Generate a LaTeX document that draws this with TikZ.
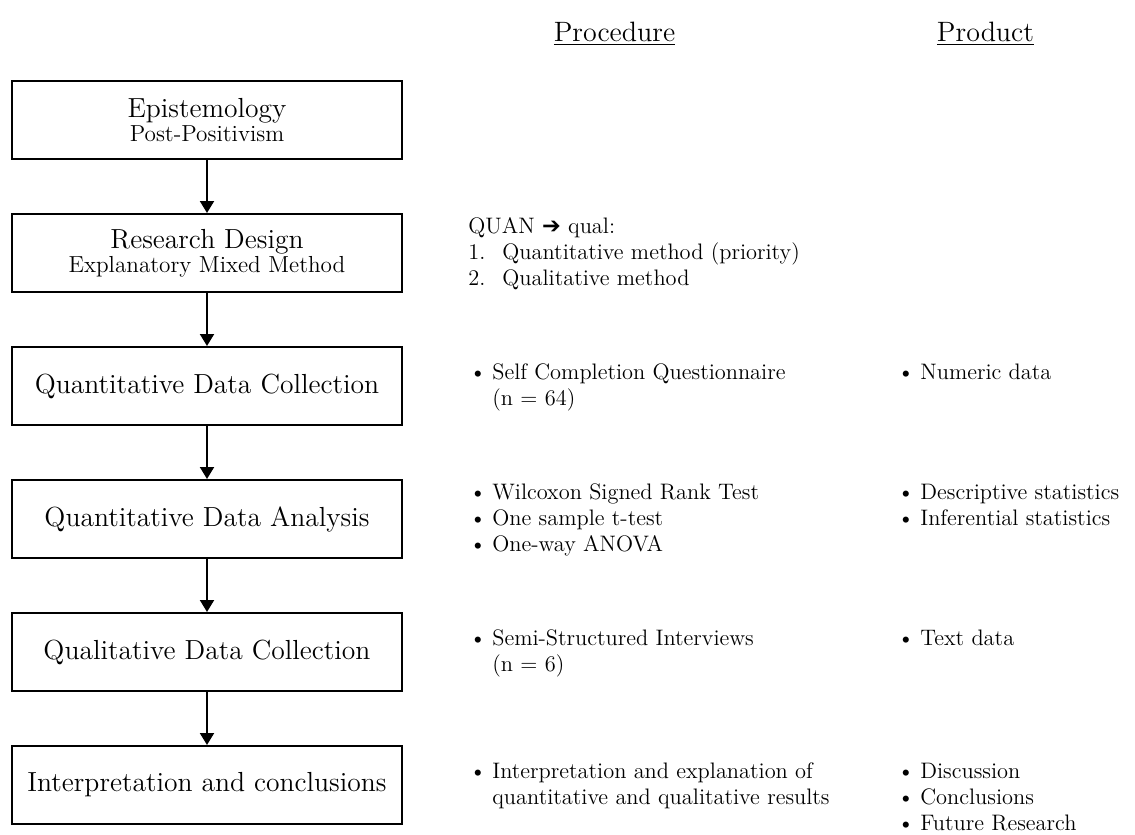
\documentclass[tikz,border=0pt]{standalone}
\usepackage{fontspec}
\newfontfamily\symfont{DejaVu Sans}
\usetikzlibrary{arrows.meta}
\newcommand{\lst}[1]{\begin{tabular}[t]{@{}l@{}}#1\end{tabular}}
\newcommand{\bul}{\makebox[11.5pt][l]{\textbullet}}
\newcommand{\cont}{\hspace*{11.5pt}}
\newcommand{\numb}[1]{\makebox[17pt][l]{#1}}
\newcommand{\subt}{\fontsize{11.6}{13}\selectfont}
\begin{document}
\begin{tikzpicture}[x=0.5pt,y=-0.5pt]
\tikzset{
  stage/.style={draw, line width=1pt, minimum width=195pt, minimum height=39pt,
    inner sep=0pt, align=center, font=\fontsize{13.8}{15}\selectfont},
  flow/.style={-{Triangle[length=6pt,width=7pt]}, line width=1pt},
  item/.style={anchor=base west, inner sep=0pt, font=\fontsize{11.2}{13}\selectfont},
  head/.style={anchor=base, inner sep=0pt, font=\fontsize{14}{16}\selectfont}
}
\useasboundingbox (0,0) rectangle (1135,835);
% headers
\node[head] (hproc) at (614.5,41) {\underline{Procedure}};
\node[head] (hprod) at (985.5,41) {\underline{Product}};
% stages
\node[stage] (b1) at (207,120) {Epistemology\\[-3pt]{\subt Post-Positivism}};
\node[stage] (b2) at (207,253) {Research Design\\[-3pt]{\subt Explanatory Mixed Method}};
\node[stage] (b3) at (207,386) {Quantitative Data Collection};
\node[stage] (b4) at (207,519) {Quantitative Data Analysis};
\node[stage] (b5) at (207,652) {Qualitative Data Collection};
\node[stage] (b6) at (207,785) {Interpretation and conclusions};
\foreach \a/\b in {b1/b2,b2/b3,b3/b4,b4/b5,b5/b6}
  \draw[flow] (\a.south) -- (\b.north);
% procedure column
\node[item] (p2) at (468,233) {\lst{QUAN {\symfont ➔} qual:\\ \numb{1.}Quantitative method (priority)\\ \numb{2.}Qualitative method}};
\node[item] (p3) at (469,379) {\lst{\bul Self Completion Questionnaire\\ \cont (n = 64)}};
\node[item] (p4) at (469,499) {\lst{\bul Wilcoxon Signed Rank Test\\ \bul One sample t-test\\ \bul One-way ANOVA}};
\node[item] (p5) at (469,645) {\lst{\bul Semi-Structured Interviews\\ \cont (n = 6)}};
\node[item] (p6) at (469,778) {\lst{\bul Interpretation and explanation of\\ \cont quantitative and qualitative results}};
% product column
\node[item] (r3) at (897,379) {\lst{\bul Numeric data}};
\node[item] (r4) at (897,499) {\lst{\bul Descriptive statistics\\ \bul Inferential statistics}};
\node[item] (r5) at (897,645) {\lst{\bul Text data}};
\node[item] (r6) at (897,778) {\lst{\bul Discussion\\ \bul Conclusions\\ \bul Future Research}};
\end{tikzpicture}
\end{document}
